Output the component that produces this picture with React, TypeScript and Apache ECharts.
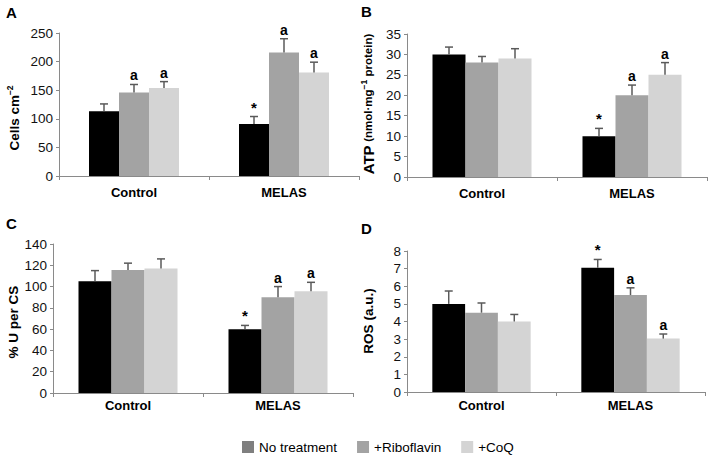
import React, { useEffect, useRef } from 'react';
import * as echarts from 'echarts';

const FONT = '"Liberation Sans", Arial, Helvetica, sans-serif';

const categories = ['Control', 'MELAS'];
const treatments = ['No treatment', '+Riboflavin', '+CoQ'];
const barColors = ['#000000', '#a3a3a3', '#d4d4d4'];
const legendColors = ['#7f7f7f', '#a3a3a3', '#d4d4d4'];

// Panel A: Cells cm-2  [Control, MELAS]
const cellsNoTreatment = [113, 91];
const cellsRiboflavin = [146, 216];
const cellsCoQ = [154, 181];
const cellsErrNoTreatment = [13, 13];
const cellsErrRiboflavin = [14, 24];
const cellsErrCoQ = [11, 18];
const cellsMarkNoTreatment = ['', '*'];
const cellsMarkRiboflavin = ['a', 'a'];
const cellsMarkCoQ = ['a', 'a'];

// Panel B: ATP (nmol·mg-1 protein)
const atpNoTreatment = [30, 10];
const atpRiboflavin = [28, 20];
const atpCoQ = [29, 25];
const atpErrNoTreatment = [1.8, 1.9];
const atpErrRiboflavin = [1.5, 2.5];
const atpErrCoQ = [2.4, 3];
const atpMarkNoTreatment = ['', '*'];
const atpMarkRiboflavin = ['', 'a'];
const atpMarkCoQ = ['', 'a'];

// Panel C: % U per CS
const cxNoTreatment = [105, 60];
const cxRiboflavin = [115.5, 90];
const cxCoQ = [117, 95.5];
const cxErrNoTreatment = [10, 3.5];
const cxErrRiboflavin = [6.5, 10];
const cxErrCoQ = [9, 8.5];
const cxMarkNoTreatment = ['', '*'];
const cxMarkRiboflavin = ['', 'a'];
const cxMarkCoQ = ['', 'a'];

// Panel D: ROS (a.u.)
const rosNoTreatment = [5.0, 7.05];
const rosRiboflavin = [4.5, 5.5];
const rosCoQ = [4.0, 3.03];
const rosErrNoTreatment = [0.73, 0.47];
const rosErrRiboflavin = [0.55, 0.41];
const rosErrCoQ = [0.4, 0.26];
const rosMarkNoTreatment = ['', '*'];
const rosMarkRiboflavin = ['', 'a'];
const rosMarkCoQ = ['', 'a'];

const yTicksA = { min: 0, max: 250, interval: 50 };
const yTicksB = { min: 0, max: 35, interval: 5 };
const yTicksC = { min: 0, max: 140, interval: 20 };
const yTicksD = { min: 0, max: 8, interval: 1 };

const panels = [
  {
    grid: { left: 59, top: 33, width: 300, height: 143 },
    ticks: yTicksA, barFrac: 0.2, labelMargin: 10,
    values: [cellsNoTreatment, cellsRiboflavin, cellsCoQ],
    errs: [cellsErrNoTreatment, cellsErrRiboflavin, cellsErrCoQ],
    marks: [cellsMarkNoTreatment, cellsMarkRiboflavin, cellsMarkCoQ],
  },
  {
    grid: { left: 407, top: 34, width: 300, height: 143 },
    ticks: yTicksB, barFrac: 0.22, labelMargin: 10,
    values: [atpNoTreatment, atpRiboflavin, atpCoQ],
    errs: [atpErrNoTreatment, atpErrRiboflavin, atpErrCoQ],
    marks: [atpMarkNoTreatment, atpMarkRiboflavin, atpMarkCoQ],
  },
  {
    grid: { left: 53, top: 244, width: 300, height: 149 },
    ticks: yTicksC, barFrac: 0.22, labelMargin: 6,
    values: [cxNoTreatment, cxRiboflavin, cxCoQ],
    errs: [cxErrNoTreatment, cxErrRiboflavin, cxErrCoQ],
    marks: [cxMarkNoTreatment, cxMarkRiboflavin, cxMarkCoQ],
  },
  {
    grid: { left: 407, top: 251, width: 298, height: 141 },
    ticks: yTicksD, barFrac: 0.22, labelMargin: 7,
    values: [rosNoTreatment, rosRiboflavin, rosCoQ],
    errs: [rosErrNoTreatment, rosErrRiboflavin, rosErrCoQ],
    marks: [rosMarkNoTreatment, rosMarkRiboflavin, rosMarkCoQ],
  },
];

const AXIS_COLOR = '#8a8a8a';

function buildOption() {
  const grids: any[] = [];
  const xAxes: any[] = [];
  const yAxes: any[] = [];
  const series: any[] = [];

  panels.forEach((p, pi) => {
    grids.push({ ...p.grid, containLabel: false });
    xAxes.push({
      type: 'category',
      gridIndex: pi,
      data: categories,
      axisLine: { lineStyle: { color: AXIS_COLOR, width: 1 } },
      axisTick: { show: true, length: 4, lineStyle: { color: AXIS_COLOR } },
      axisLabel: {
        margin: p.labelMargin,
        color: '#000',
        fontFamily: FONT,
        fontWeight: 'bold',
        fontSize: 13,
      },
      splitLine: { show: false },
    });
    yAxes.push({
      type: 'value',
      gridIndex: pi,
      min: p.ticks.min,
      max: p.ticks.max,
      interval: p.ticks.interval,
      axisLine: { show: true, lineStyle: { color: AXIS_COLOR, width: 1 } },
      axisTick: { show: true, length: 3, lineStyle: { color: AXIS_COLOR } },
      axisLabel: { margin: 6, color: '#111', fontFamily: FONT, fontSize: 13.5 },
      splitLine: { show: false },
    });
    treatments.forEach((t, k) => {
      series.push({
        type: 'bar',
        name: t,
        xAxisIndex: pi,
        yAxisIndex: pi,
        data: p.values[k],
        barWidth: `${p.barFrac * 100}%`,
        barGap: '0%',
        itemStyle: { color: barColors[k] },
        z: 2,
      });
    });
    treatments.forEach((t, k) => {
      const vals = p.values[k];
      const errs = p.errs[k];
      const marks = p.marks[k];
      series.push({
        type: 'custom',
        name: t + ' error',
        xAxisIndex: pi,
        yAxisIndex: pi,
        z: 5,
        silent: true,
        data: categories.map((c, i) => [i, vals[i], errs[i]]),
        encode: { x: 0, y: 1 },
        renderItem: (params: any, api: any) => {
          const ci = api.value(0);
          const v = api.value(1);
          const e = api.value(2);
          const bw = api.size([1, 0])[0] * p.barFrac;
          const base = api.coord([ci, v]);
          const top = api.coord([ci, v + e]);
          const x = base[0] + (k - 1) * bw;
          const mark = marks[params.dataIndex];
          const children: any[] = [
            {
              type: 'line',
              shape: { x1: x, y1: base[1], x2: x, y2: top[1] },
              style: { stroke: '#5a5a5a', lineWidth: 1.5 },
            },
            {
              type: 'line',
              shape: { x1: x - 4, y1: top[1], x2: x + 4, y2: top[1] },
              style: { stroke: '#5a5a5a', lineWidth: 1.5 },
            },
          ];
          if (mark) {
            children.push({
              type: 'text',
              x: x,
              y: top[1] - 2,
              style: {
                text: mark,
                textAlign: 'center',
                textVerticalAlign: 'bottom',
                fill: '#000',
                fontFamily: FONT,
                fontWeight: 'bold',
                fontSize: mark === '*' ? 15 : 14,
              },
            });
          }
          return { type: 'group', children };
        },
      });
    });
  });

  const letter = (t: string, x: number, y: number) => ({
    type: 'text',
    x,
    y,
    style: { text: t, fill: '#000', fontFamily: FONT, fontWeight: 'bold', fontSize: 15 },
  });

  const yTitle = (text: string, x: number, y: number, rich: any) => ({
    type: 'text',
    x,
    y,
    rotation: Math.PI / 2,
    style: {
      text,
      rich,
      textAlign: 'center',
      textVerticalAlign: 'middle',
      fill: '#000',
      fontFamily: FONT,
      fontWeight: 'bold',
      fontSize: 13,
    },
  });

  const baseRich = {
    b: { fontFamily: FONT, fontWeight: 'bold', fontSize: 13.5, lineHeight: 17 },
    big: { fontFamily: FONT, fontWeight: 'bold', fontSize: 15, lineHeight: 17 },
    s: { fontFamily: FONT, fontWeight: 'bold', fontSize: 11.5, lineHeight: 17 },
    sup: { fontFamily: FONT, fontWeight: 'bold', fontSize: 8.5, lineHeight: 17, verticalAlign: 'top' },
  };

  return {
    animation: false,
    backgroundColor: '#ffffff',
    grid: grids,
    xAxis: xAxes,
    yAxis: yAxes,
    series,
    legend: {
      left: 242,
      top: 440,
      itemWidth: 12,
      itemHeight: 12,
      itemGap: 20,
      icon: 'rect',
      selectedMode: false,
      padding: 0,
      textStyle: { color: '#000', fontFamily: FONT, fontSize: 13.5 },
      data: treatments.map((t, k) => ({ name: t, itemStyle: { color: legendColors[k] } })),
    },
    graphic: [
      letter('A', 6, 5),
      letter('B', 361, 4),
      letter('C', 6, 216),
      letter('D', 361, 221),
      yTitle('{b|Cells cm}{sup|−2}', 14, 118, baseRich),
      yTitle('{big|ATP} {s|(nmol·mg}{sup|−1}{s| protein)}', 368, 104, baseRich),
      yTitle('{b|% U per CS}', 13, 322, baseRich),
      yTitle('{b|ROS (a.u.)}', 368, 321, baseRich),
    ],
  };
}

export default function App() {
  const ref = useRef<HTMLDivElement>(null);
  useEffect(() => {
    if (!ref.current) return;
    const chart = echarts.init(ref.current, undefined, { renderer: 'svg' });
    chart.setOption(buildOption() as any);
    return () => chart.dispose();
  }, []);
  return (
    <div
      ref={ref}
      style={{ position: 'fixed', left: 0, top: 0, width: 711, height: 459, background: '#fff' }}
    />
  );
}
